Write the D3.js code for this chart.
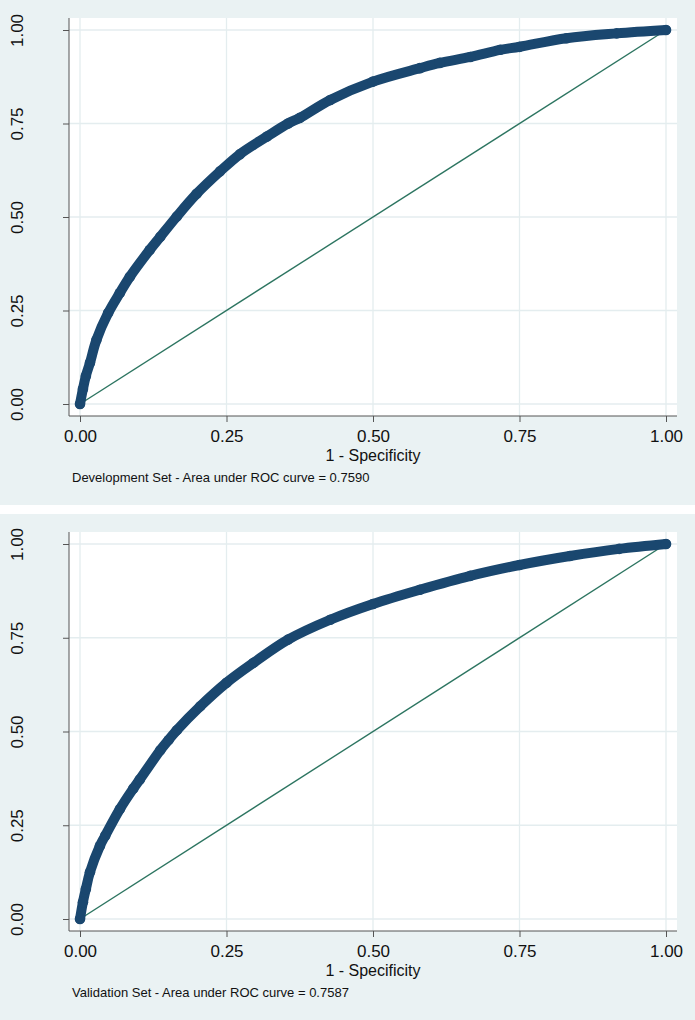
<!DOCTYPE html>
<html>
<head>
<meta charset="utf-8">
<script src="https://cdn.jsdelivr.net/npm/d3@7"></script>
<style>
  body { margin: 0; background: #fff; }
  svg { display: block; font-family: "Liberation Sans", Arial, sans-serif; }
</style>
</head>
<body>
<div id="chart"></div>
<script>
// ROC points: false positive rate (1 - specificity) and sensitivity
var devFpr = [0, 0.005, 0.01, 0.017, 0.028, 0.048, 0.068, 0.085, 0.119, 0.137, 0.165, 0.199, 0.239, 0.273, 0.319, 0.355, 0.375, 0.427, 0.5, 0.58, 0.614, 0.666, 0.717, 0.75, 0.83, 0.916, 1];
var devTpr = [0, 0.04, 0.075, 0.11, 0.171, 0.243, 0.297, 0.34, 0.412, 0.447, 0.501, 0.562, 0.622, 0.668, 0.715, 0.75, 0.765, 0.813, 0.862, 0.898, 0.912, 0.928, 0.947, 0.955, 0.978, 0.991, 1];

var valFpr = [0, 0.005, 0.01, 0.017, 0.034, 0.043, 0.068, 0.091, 0.102, 0.137, 0.151, 0.165, 0.205, 0.25, 0.296, 0.355, 0.427, 0.5, 0.58, 0.666, 0.75, 0.836, 0.92, 1];
var valTpr = [0, 0.045, 0.08, 0.125, 0.195, 0.222, 0.293, 0.348, 0.372, 0.45, 0.477, 0.503, 0.567, 0.63, 0.683, 0.745, 0.798, 0.84, 0.878, 0.915, 0.944, 0.968, 0.987, 1];

var tickValues = [0, 0.25, 0.5, 0.75, 1];
var captions = [
  "Development Set - Area under ROC curve = 0.7590",
  "Validation Set - Area under ROC curve = 0.7587"
];
var xTitle = "1 - Specificity";

var W = 695, H = 1020;
var bg = "#eaf2f3", grid = "#e4edef", navy = "#1a476f", green = "#2d7561", axisCol = "#555";

var svg = d3.select("#chart").append("svg")
  .attr("width", W).attr("height", H);

var panels = [
  { top: 0, h: 505, fpr: devFpr, tpr: devTpr, caption: captions[0] },
  { top: 514, h: 506, fpr: valFpr, tpr: valTpr, caption: captions[1] }
];

panels.forEach(function (p) {
  var g = svg.append("g").attr("transform", "translate(0," + p.top + ")");
  var y0 = p.h - 101, y1 = 30, axisY = y0 + 12;
  var left = 69, right = 677, plotTop = 18;

  var x = d3.scaleLinear().domain([0, 1]).range([80, 666]);
  var y = d3.scaleLinear().domain([0, 1]).range([y0, y1]);

  g.append("rect").attr("width", W).attr("height", p.h).attr("fill", bg);
  g.append("rect")
    .attr("x", left).attr("y", plotTop)
    .attr("width", right - left).attr("height", axisY - plotTop)
    .attr("fill", "#fff");

  // grid
  g.selectAll(".hg").data(tickValues).enter().append("line")
    .attr("x1", left).attr("x2", right)
    .attr("y1", d => y(d)).attr("y2", d => y(d))
    .attr("stroke", grid).attr("stroke-width", 1.3);
  g.selectAll(".vg").data(tickValues).enter().append("line")
    .attr("x1", d => x(d)).attr("x2", d => x(d))
    .attr("y1", plotTop).attr("y2", axisY)
    .attr("stroke", grid).attr("stroke-width", 1.3);

  // axes
  var yAxis = d3.axisLeft(y).tickValues(tickValues).tickSize(6).tickFormat(d3.format(".2f"));
  var ya = g.append("g").attr("transform", "translate(" + left + ",0)").call(yAxis);
  ya.select(".domain").remove();
  ya.append("line").attr("y1", plotTop).attr("y2", axisY).attr("stroke", axisCol);
  ya.selectAll(".tick line").attr("stroke", axisCol);
  ya.selectAll(".tick text")
    .attr("x", null).attr("dy", null)
    .attr("transform", "translate(-46,0) rotate(-90)")
    .attr("text-anchor", "middle")
    .attr("fill", "#111")
    .style("font-size", "17px");

  var xAxis = d3.axisBottom(x).tickValues(tickValues).tickSize(6).tickFormat(d3.format(".2f"));
  var xa = g.append("g").attr("transform", "translate(0," + axisY + ")").call(xAxis);
  xa.select(".domain").remove();
  xa.append("line").attr("x1", left).attr("x2", right).attr("stroke", axisCol);
  xa.selectAll(".tick line").attr("stroke", axisCol);
  xa.selectAll(".tick text")
    .attr("y", 26).attr("dy", null)
    .attr("fill", "#111")
    .style("font-size", "17px");

  g.append("text")
    .attr("x", x(0.5)).attr("y", axisY + 45)
    .attr("text-anchor", "middle")
    .attr("fill", "#111")
    .style("font-size", "16px")
    .text(xTitle);

  g.append("text")
    .attr("x", 72).attr("y", axisY + 66)
    .attr("fill", "#111")
    .style("font-size", "13px")
    .text(p.caption);

  // reference diagonal
  g.append("line")
    .attr("x1", x(0)).attr("y1", y(0)).attr("x2", x(1)).attr("y2", y(1))
    .attr("stroke", green).attr("stroke-width", 1.4);

  // ROC markers
  var pts = p.fpr.map((d, i) => [d, p.tpr[i]]);
  var line = d3.line().x(d => x(d[0])).y(d => y(d[1])).curve(d3.curveCatmullRom.alpha(0.5));
  g.append("path")
    .attr("d", line(pts))
    .attr("fill", "none")
    .attr("stroke", navy)
    .attr("stroke-width", 10)
    .attr("stroke-linecap", "round")
    .attr("stroke-linejoin", "round");
  g.selectAll(".pt").data(pts).enter().append("circle")
    .attr("cx", d => x(d[0])).attr("cy", d => y(d[1]))
    .attr("r", 5.3).attr("fill", navy);
});
</script>
</body>
</html>
